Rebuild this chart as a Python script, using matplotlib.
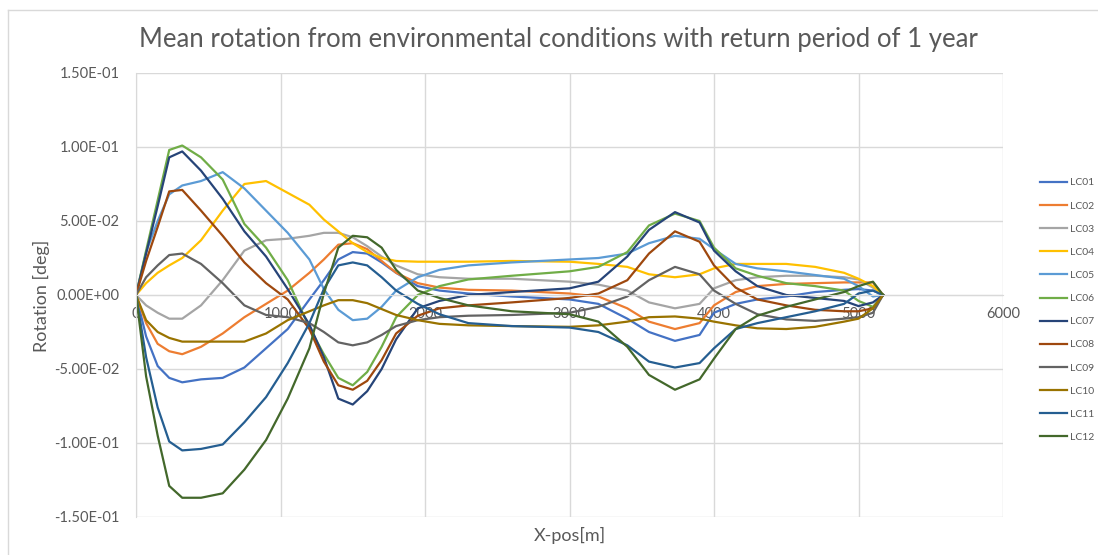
import matplotlib
matplotlib.use("Agg")
import matplotlib.pyplot as plt
from matplotlib.ticker import FormatStrFormatter, MultipleLocator
from matplotlib.lines import Line2D

# Position along the structure [m]
x_pos = [0, 70, 150, 230, 320, 450, 600, 750, 900, 1050, 1200, 1300, 1400, 1500,
         1600, 1700, 1800, 1950, 2100, 2300, 2600, 3000, 3200, 3400, 3550, 3730,
         3900, 4000, 4150, 4300, 4500, 4700, 4900, 5000, 5100, 5170]

# Mean rotation per load case, in units of 1e-2 deg
UNIT = 1e-2
lc01 = [0, -2.8, -4.8, -5.6, -5.9, -5.7, -5.6, -4.9, -3.6, -2.3, -0.3, 1.0, 2.4, 2.9,
        2.8, 2.2, 1.5, 0.6, 0.3, 0.1, -0.1, -0.3, -0.6, -1.6, -2.5, -3.1,
        -2.7, -1.2, -0.6, -0.3, -0.1, 0.2, 0.35, 0.4, 0.3, 0]
lc02 = [0, -1.9, -3.3, -3.8, -4.0, -3.5, -2.6, -1.5, -0.6, 0.3, 1.5, 2.4, 3.4, 3.5,
        3.1, 2.3, 1.5, 0.8, 0.5, 0.35, 0.3, 0.1, -0.1, -0.9, -1.8, -2.3,
        -1.9, -0.7, 0.2, 0.6, 0.75, 0.8, 0.85, 0.85, 0.85, 0]
lc03 = [0, -0.7, -1.2, -1.6, -1.6, -0.7, 1.0, 3.0, 3.7, 3.8, 4.0, 4.2, 4.2, 3.9,
        3.3, 2.6, 2.0, 1.4, 1.2, 1.1, 1.1, 0.9, 0.7, 0.3, -0.5, -0.9,
        -0.6, 0.45, 1.0, 1.2, 1.3, 1.3, 1.2, 1.05, 0.5, 0]
lc04 = [0, 0.8, 1.5, 2.0, 2.5, 3.7, 5.7, 7.5, 7.7, 6.9, 6.1, 5.1, 4.3, 3.5,
        2.9, 2.5, 2.3, 2.25, 2.25, 2.25, 2.3, 2.25, 2.1, 1.9, 1.4, 1.2,
        1.4, 1.8, 2.1, 2.1, 2.1, 1.9, 1.5, 1.1, 0.6, 0]
lc05 = [0, 2.9, 5.0, 6.8, 7.4, 7.7, 8.3, 7.2, 5.7, 4.2, 2.4, 0.4, -1.0, -1.7,
        -1.6, -0.8, 0.3, 1.2, 1.7, 2.0, 2.2, 2.4, 2.5, 2.8, 3.5, 4.0,
        3.8, 3.1, 2.1, 1.8, 1.6, 1.35, 1.1, 0.6, -0.1, 0]
lc06 = [0, 3.0, 6.4, 9.8, 10.1, 9.3, 7.8, 4.8, 3.2, 1.0, -2.2, -4.0, -5.6, -6.1,
        -5.2, -3.5, -1.5, 0.0, 0.6, 1.05, 1.3, 1.6, 1.9, 2.9, 4.7, 5.5,
        5.0, 3.2, 1.8, 1.3, 0.8, 0.6, 0.3, -0.4, -0.8, 0]
lc07 = [0, 2.8, 6.0, 9.3, 9.7, 8.4, 6.5, 4.3, 2.6, 0.4, -2.0, -4.2, -7.0, -7.4,
        -6.5, -5.0, -3.0, -0.9, -0.4, 0.0, 0.2, 0.45, 0.9, 2.6, 4.4, 5.6,
        4.9, 3.0, 1.6, 0.6, 0.0, -0.2, -0.4, -0.75, -0.5, 0]
lc08 = [0, 2.3, 4.6, 7.0, 7.1, 5.7, 4.0, 2.2, 0.8, -0.3, -2.3, -4.5, -6.1, -6.4,
        -5.8, -4.4, -2.6, -1.4, -0.9, -0.7, -0.5, -0.2, 0.1, 1.0, 2.8, 4.3,
        3.6, 2.0, 0.5, -0.3, -0.7, -1.0, -1.1, -1.1, -0.9, 0]
lc09 = [0, 1.2, 2.0, 2.7, 2.8, 2.1, 0.8, -0.7, -1.35, -1.5, -1.9, -2.5, -3.2, -3.4,
        -3.2, -2.7, -2.1, -1.7, -1.5, -1.4, -1.35, -1.2, -0.8, -0.1, 1.0, 1.9,
        1.4, 0.3, -0.6, -1.3, -1.65, -1.75, -1.6, -1.5, -1.2, 0]
lc10 = [0, -1.7, -2.5, -2.9, -3.15, -3.15, -3.15, -3.15, -2.6, -1.7, -1.1, -0.7, -0.35, -0.35,
        -0.55, -0.95, -1.35, -1.7, -1.95, -2.05, -2.1, -2.15, -2.05, -1.8, -1.5, -1.45,
        -1.6, -1.8, -2.05, -2.25, -2.3, -2.15, -1.8, -1.6, -0.9, 0]
lc11 = [0, -4.2, -7.6, -9.9, -10.5, -10.4, -10.1, -8.6, -6.9, -4.6, -1.9, 0.4, 2.0, 2.2,
        2.0, 1.2, 0.3, -0.6, -1.3, -1.9, -2.1, -2.2, -2.5, -3.4, -4.5, -4.9,
        -4.6, -3.6, -2.3, -1.9, -1.5, -1.1, -0.6, 0.1, 0.3, 0]
lc12 = [0, -5.5, -9.5, -12.9, -13.7, -13.7, -13.4, -11.8, -9.8, -7.0, -3.6, 0.1, 3.2, 4.0,
        3.9, 3.2, 1.7, 0.3, -0.2, -0.7, -1.1, -1.3, -1.8, -3.5, -5.4, -6.4,
        -5.7, -4.3, -2.3, -1.4, -0.8, -0.3, 0.2, 0.6, 0.9, 0]

labels = ["LC01", "LC02", "LC03", "LC04", "LC05", "LC06",
          "LC07", "LC08", "LC09", "LC10", "LC11", "LC12"]
series = [lc01, lc02, lc03, lc04, lc05, lc06, lc07, lc08, lc09, lc10, lc11, lc12]
colors = ["#4472C4", "#ED7D31", "#A5A5A5", "#FFC000", "#5B9BD5", "#70AD47",
          "#264478", "#9E480E", "#636363", "#997300", "#255E91", "#43682B"]

plt.rcParams["font.family"] = ["Lato", "DejaVu Sans"]
TEXT = "#595959"
GRID = "#D9D9D9"

fig = plt.figure(figsize=(10.98, 5.55), dpi=100)
ax = fig.add_axes([136 / 1098, 1 - 517 / 555, (1003 - 136) / 1098, (517 - 73) / 555])

handles = []
for lab, ys, col in zip(labels, series, colors):
    h, = ax.plot(x_pos, [v * UNIT for v in ys], color=col, lw=1.6, label=lab,
                 solid_joinstyle="round")
    handles.append(h)

ax.set_xlim(0, 6000)
ax.set_ylim(-0.15, 0.15)
ax.xaxis.set_major_locator(MultipleLocator(1000))
ax.yaxis.set_major_locator(MultipleLocator(0.05))
ax.yaxis.set_major_formatter(FormatStrFormatter("%.2E"))
ax.grid(True, color=GRID, lw=1.0)
ax.set_axisbelow(True)

for s in ("top", "right"):
    ax.spines[s].set_visible(False)
ax.spines["left"].set_color(GRID)
ax.spines["bottom"].set_position(("data", 0))
ax.spines["bottom"].set_color(GRID)
ax.tick_params(axis="both", length=0, colors=TEXT, labelsize=10.5)
ax.tick_params(axis="x", pad=9)
ax.tick_params(axis="y", pad=12)

fig.text(558 / 1098, 1 - 40 / 555, "Mean rotation from environmental conditions with return period of 1 year",
         ha="center", va="center", fontsize=18.5, color=TEXT)
fig.text(41 / 1098, 1 - 296 / 555, "Rotation [deg]", ha="center", va="center",
         rotation=90, fontsize=13, color=TEXT)
fig.text(570 / 1098, 1 - 535 / 555, "X-pos[m]", ha="center", va="center",
         fontsize=13, color=TEXT)

leg = fig.legend(handles=handles, loc="upper left",
                 bbox_to_anchor=(1036 / 1098, 1 - 174 / 555),
                 frameon=False, fontsize=7.5, handlelength=2.6, handletextpad=0.3,
                 labelspacing=1.33, borderaxespad=0)
for t in leg.get_texts():
    t.set_color(TEXT)

# chart area border
fig.add_artist(Line2D([8 / 1098, 8 / 1098], [0, 1 - 10 / 555], transform=fig.transFigure,
                      color=GRID, lw=1.0))
fig.add_artist(Line2D([8 / 1098, 1], [1 - 10 / 555, 1 - 10 / 555], transform=fig.transFigure,
                      color=GRID, lw=1.0))

fig.savefig("out.png", dpi=100, facecolor="white")
